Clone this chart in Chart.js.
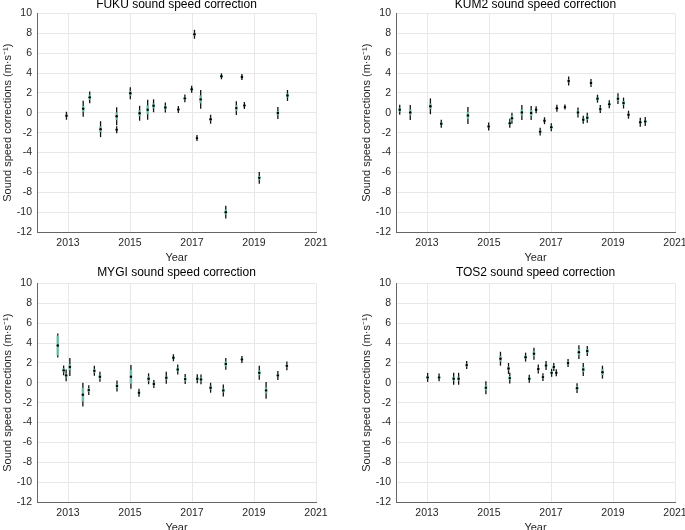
<!DOCTYPE html>
<html>
<head>
<meta charset="utf-8">
<title>Sound speed correction</title>
<script src="https://cdn.jsdelivr.net/npm/chart.js@4.4.1/dist/chart.umd.min.js"></script>
<style>
  body { margin: 0; width: 685px; height: 530px; overflow: hidden; background: #fff; position: relative; }
  .panel { position: absolute; width: 343px; height: 270px; }
  #p1 { left: 0; top: -5px; }
  #p2 { left: 359px; top: -5px; }
  #p3 { left: 0; top: 265px; }
  #p4 { left: 359px; top: 265px; }
</style>
</head>
<body>
<div class="panel" id="p1"><canvas id="c1"></canvas></div>
<div class="panel" id="p2"><canvas id="c2"></canvas></div>
<div class="panel" id="p3"><canvas id="c3"></canvas></div>
<div class="panel" id="p4"><canvas id="c4"></canvas></div>
<script>
// tick labels
const yearTicks = [2013, 2015, 2017, 2019, 2021];
const yTicks = [-12, -10, -8, -6, -4, -2, 0, 2, 4, 6, 8, 10];

// FUKU
const fukuYears = [2012.95, 2013.49, 2013.70, 2014.05, 2014.57, 2014.57, 2015.01, 2015.31, 2015.57, 2015.76, 2016.14, 2016.56, 2016.77, 2016.99, 2017.08, 2017.16, 2017.28, 2017.60, 2017.95, 2018.09, 2018.43, 2018.61, 2018.69, 2019.17, 2019.77, 2020.08];
const fukuValues = [-0.3, 0.4, 1.55, -1.65, -0.35, -1.7, 1.97, -0.05, 0.3, 0.7, 0.53, 0.33, 1.45, 2.37, 7.9, -2.55, 1.35, -0.65, 3.67, -10.0, 0.47, 3.6, 0.73, -6.55, -0.03, 1.74];
const fukuErr = [0.4, 0.8, 0.6, 0.8, 0.9, 0.35, 0.6, 0.75, 1.0, 0.65, 0.5, 0.35, 0.4, 0.35, 0.45, 0.3, 0.95, 0.45, 0.3, 0.65, 0.7, 0.3, 0.35, 0.6, 0.6, 0.55];
const fukuInner = [0.15, 0.3, 0.25, 0.3, 0.4, 0.1, 0.25, 0.3, 0.45, 0.25, 0.2, 0.1, 0.15, 0.1, 0.15, 0.1, 0.4, 0.15, 0.1, 0.25, 0.3, 0.1, 0.1, 0.2, 0.2, 0.2];

// KUM2
const kumYears = [2012.12, 2012.46, 2013.11, 2013.46, 2014.32, 2014.99, 2015.67, 2015.74, 2016.06, 2016.36, 2016.52, 2016.65, 2016.79, 2017.01, 2017.19, 2017.45, 2017.57, 2017.87, 2018.04, 2018.17, 2018.29, 2018.50, 2018.59, 2018.88, 2019.16, 2019.34, 2019.50, 2019.88, 2020.04];
const kumValues = [0.3, 0.03, 0.65, -1.1, -0.27, -1.38, -1.05, -0.55, 0.03, -0.03, 0.3, -1.9, -0.8, -1.45, 0.45, 0.57, 3.2, 0.03, -0.7, -0.5, 3.0, 1.42, 0.37, 0.85, 1.42, 0.98, -0.2, -0.95, -0.88];
const kumErr = [0.5, 0.75, 0.8, 0.4, 0.85, 0.4, 0.45, 0.55, 0.75, 0.7, 0.35, 0.4, 0.35, 0.4, 0.35, 0.25, 0.45, 0.5, 0.4, 0.5, 0.4, 0.4, 0.4, 0.4, 0.55, 0.55, 0.4, 0.45, 0.45];
const kumInner = [0.2, 0.3, 0.3, 0.15, 0.35, 0.15, 0.15, 0.25, 0.3, 0.3, 0.1, 0.15, 0.1, 0.15, 0.1, 0.1, 0.15, 0.2, 0.15, 0.2, 0.15, 0.15, 0.15, 0.15, 0.2, 0.2, 0.15, 0.15, 0.15];

// MYGI
const mygiYears = [2012.67, 2012.86, 2012.94, 2013.06, 2013.48, 2013.67, 2013.85, 2014.03, 2014.58, 2015.03, 2015.29, 2015.60, 2015.77, 2016.17, 2016.40, 2016.54, 2016.78, 2017.17, 2017.29, 2017.60, 2018.01, 2018.09, 2018.61, 2019.17, 2019.39, 2019.77, 2020.06];
const mygiValues = [3.75, 1.25, 0.74, 1.58, -1.2, -0.74, 1.2, 0.6, -0.33, 0.6, -1.0, 0.4, -0.13, 0.5, 2.52, 1.34, 0.37, 0.4, 0.34, -0.5, -0.77, 1.9, 2.35, 1.0, -0.77, 0.74, 1.7];
const mygiErr = [1.2, 0.5, 0.6, 0.9, 1.2, 0.5, 0.5, 0.5, 0.55, 1.2, 0.4, 0.55, 0.4, 0.6, 0.35, 0.5, 0.5, 0.45, 0.5, 0.5, 0.6, 0.6, 0.35, 0.7, 0.85, 0.45, 0.45];
const mygiInner = [1.0, 0.2, 0.2, 0.3, 0.7, 0.2, 0.2, 0.2, 0.2, 0.7, 0.15, 0.25, 0.15, 0.2, 0.1, 0.2, 0.2, 0.15, 0.2, 0.2, 0.2, 0.25, 0.1, 0.25, 0.3, 0.15, 0.15];

// TOS2
const tosYears = [2013.02, 2013.39, 2013.86, 2014.02, 2014.28, 2014.90, 2015.37, 2015.63, 2015.67, 2016.18, 2016.30, 2016.45, 2016.59, 2016.74, 2016.84, 2017.02, 2017.09, 2017.17, 2017.55, 2017.84, 2017.90, 2018.04, 2018.17, 2018.66];
const tosValues = [0.54, 0.54, 0.4, 0.4, 1.78, -0.5, 2.42, 1.44, 0.47, 2.58, 0.4, 2.92, 1.38, 0.57, 1.74, 1.0, 1.58, 1.0, 1.98, -0.54, 3.08, 1.34, 3.2, 1.07];
const tosErr = [0.45, 0.4, 0.6, 0.6, 0.4, 0.65, 0.7, 0.55, 0.55, 0.45, 0.4, 0.6, 0.45, 0.4, 0.45, 0.4, 0.4, 0.35, 0.4, 0.5, 0.7, 0.65, 0.5, 0.65];
const tosInner = [0.15, 0.15, 0.2, 0.2, 0.15, 0.25, 0.3, 0.2, 0.2, 0.15, 0.15, 0.25, 0.15, 0.15, 0.15, 0.15, 0.15, 0.1, 0.15, 0.2, 0.3, 0.25, 0.2, 0.3];

const FONT = "'Liberation Sans', Arial, Helvetica, sans-serif";
const TEXT = '#262626';

// draws the black error bar and the teal inner box under each point
const errorBars = {
  id: 'errorBars',
  beforeDatasetsDraw(chart) {
    const ctx = chart.ctx;
    const x = chart.scales.x, y = chart.scales.y;
    chart.data.datasets.forEach(ds => {
      ds.data.forEach((p, i) => {
        const px = x.getPixelForValue(p.x);
        const top = y.getPixelForValue(p.y + ds.err[i]);
        const bot = y.getPixelForValue(p.y - ds.err[i]);
        const itop = y.getPixelForValue(p.y + ds.inner[i]);
        const ibot = y.getPixelForValue(p.y - ds.inner[i]);
        ctx.save();
        ctx.strokeStyle = '#111';
        ctx.lineWidth = 1.3;
        ctx.beginPath();
        ctx.moveTo(px, top);
        ctx.lineTo(px, bot);
        ctx.stroke();
        ctx.fillStyle = 'rgba(120, 196, 178, 0.9)';
        ctx.fillRect(px - 1.3, itop, 2.6, ibot - itop);
        ctx.restore();
      });
    });
  }
};

function makeChart(id, title, years, values, err, inner, titleTop, titleBottom) {
  const points = years.map((yr, i) => ({ x: yr, y: values[i] }));
  return new Chart(document.getElementById(id), {
    type: 'scatter',
    data: {
      datasets: [{
        data: points,
        err: err,
        inner: inner,
        pointRadius: 1.2,
        pointBackgroundColor: '#000',
        pointBorderWidth: 0
      }]
    },
    options: {
      responsive: true,
      maintainAspectRatio: false,
      animation: false,
      layout: { padding: { left: 0, right: 27, top: 0, bottom: 0 } },
      plugins: {
        legend: { display: false },
        tooltip: { enabled: false },
        title: {
          display: true,
          text: title,
          fullSize: false,
          color: '#000',
          font: { family: FONT, size: 12, weight: 'normal' },
          padding: { top: titleTop, bottom: titleBottom }
        }
      },
      scales: {
        x: {
          type: 'linear',
          min: 2012,
          max: 2021,
          afterBuildTicks: s => { s.ticks = yearTicks.map(v => ({ value: v })); },
          afterFit: s => { s.height = 33; },
          grid: { color: '#e8e8e8', drawTicks: false },
          border: { color: '#666', width: 1 },
          ticks: {
            color: TEXT, font: { family: FONT, size: 10.5 }, padding: 5, maxRotation: 0, autoSkip: false,
            callback: v => String(v)
          },
          title: { display: true, text: 'Year', color: TEXT, font: { family: FONT, size: 11 }, padding: { top: 0, bottom: 0 } }
        },
        y: {
          min: -12,
          max: 10,
          afterBuildTicks: s => { s.ticks = yTicks.map(v => ({ value: v })); },
          afterFit: s => { s.width = 37; },
          grid: { color: '#e8e8e8', drawTicks: false },
          border: { color: '#666', width: 1 },
          ticks: { color: TEXT, font: { family: FONT, size: 10.5 }, padding: 5, callback: v => String(v) },
          title: { display: true, text: 'Sound speed corrections (m·s⁻¹)', color: TEXT, font: { family: FONT, size: 11 }, padding: { top: 1, bottom: 0 } }
        }
      }
    },
    plugins: [errorBars]
  });
}

makeChart('c1', 'FUKU sound speed correction', fukuYears, fukuValues, fukuErr, fukuInner, 2, 2);
makeChart('c2', 'KUM2 sound speed correction', kumYears, kumValues, kumErr, kumInner, 2, 2);
makeChart('c3', 'MYGI sound speed correction', mygiYears, mygiValues, mygiErr, mygiInner, 0, 4);
makeChart('c4', 'TOS2 sound speed correction', tosYears, tosValues, tosErr, tosInner, 0, 4);
</script>
</body>
</html>
